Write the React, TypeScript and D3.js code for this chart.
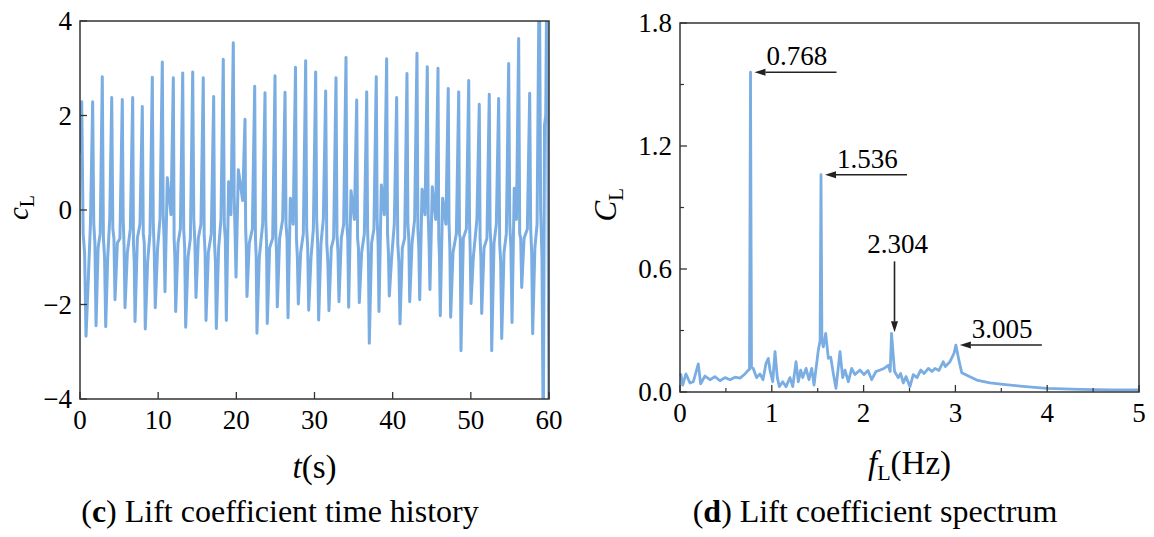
import * as d3 from "d3";

// ---- (c) lift coefficient time history ----
const peakT = [0.22, 1.62, 2.85, 4.06, 5.41, 6.74, 7.97, 9.25, 10.53, 11.94, 13.14, 14.42, 15.77, 17.1, 18.33, 19.61, 21.11, 22.35, 23.67, 24.95, 26.23, 27.57, 28.87, 30.15, 31.43, 32.75, 34.03, 35.4, 36.68, 37.9, 39.23, 40.51, 41.83, 43.11, 44.43, 45.8, 47.11, 48.45, 49.73, 51.08, 52.36, 53.56, 54.84, 56.12, 57.53, 58.76, 59.74];
const peakV = [2.29, 2.29, 2.82, 2.38, 2.34, 2.38, 2.19, 2.81, 3.13, 2.8, 2.9, 2.92, 2.8, 2.4, 3.19, 3.54, 1.92, 2.62, 2.48, 2.84, 2.49, 3.02, 3.16, 2.92, 2.52, 2.8, 3.23, 2.33, 2.5, 2.82, 3.2, 2.38, 2.89, 3.32, 3.03, 3.0, 2.57, 2.5, 2.74, 2.24, 2.45, 2.36, 3.1, 3.63, 2.47, 5.5, 5.5];
const troughT = [0.77, 2.05, 3.29, 4.48, 5.76, 7.04, 8.35, 9.63, 10.87, 12.24, 13.52, 14.84, 16.12, 17.44, 18.72, 19.96, 21.36, 22.64, 23.96, 25.24, 26.61, 27.93, 29.26, 30.53, 31.85, 33.13, 34.37, 35.73, 37.01, 38.25, 39.57, 40.94, 42.18, 43.46, 44.77, 46.09, 47.42, 48.74, 50.02, 51.39, 52.67, 53.95, 55.27, 56.51, 57.91, 59.27];
const troughV = [-2.67, -2.45, -2.47, -1.9, -2.07, -2.36, -2.52, -2.07, -1.73, -2.15, -2.48, -1.85, -2.34, -2.51, -2.34, -1.42, -1.83, -2.61, -2.4, -2.05, -2.28, -1.99, -2.12, -2.33, -2.13, -1.94, -2.06, -1.96, -2.82, -2.15, -1.82, -2.41, -1.94, -1.9, -1.68, -2.24, -2.27, -2.98, -1.98, -2.19, -2.98, -2.72, -2.38, -1.64, -2.62, -5.0];
// plateau levels between the spikes, one per cycle
const afterPeak = [-0.5, -0.3, -0.6, -0.4, -0.2, -0.7, -0.5, -0.3, -0.1, -0.6, -0.4, -0.2, -0.5, -0.7, -0.3, 0.3, -0.4, -0.6, -0.2, -0.5, -0.3, -0.6, -0.4, -0.2, -0.7, -0.5, -0.3, -0.6, -0.4, -0.2, -0.5, -0.7, -0.3, -0.4, -0.1, -0.6, -0.3, -0.5, -0.2, -0.6, -0.4, -0.7, -0.3, -0.5, -0.4, 0];
const beforeTrough = [-0.9, -0.7, -1.0, -0.6, -0.8, -1.1, -0.7, -0.9, -0.6, -1.0, -0.8, -0.7, -0.9, -1.1, -0.6, -0.5, -0.8, -1.0, -0.7, -0.9, -0.6, -1.0, -0.8, -0.7, -1.1, -0.9, -0.6, -0.8, -1.0, -0.7, -0.9, -1.1, -0.6, -0.8, -0.7, -1.0, -0.8, -0.6, -0.9, -1.0, -0.7, -1.1, -0.8, -0.6, -0.9, -1.0];
const afterTrough = [-1.5, -0.8, -1.0, -0.7, -0.9, -0.6, -1.1, -0.8, 0.68, -0.7, -1.0, -0.6, -0.9, -0.8, 0.6, 0.85, -0.7, -1.0, -0.8, -0.6, 0.25, -0.9, -1.0, -0.7, -0.8, -0.6, 0.41, -0.9, -0.7, 0.53, -1.0, -0.8, -0.7, 0.44, 0.49, 0.25, -0.9, -0.6, -1.0, -0.8, -0.7, -0.9, 0.46, -0.6, -0.8, 1.8];
const beforePeak = [-0.3, -0.5, -0.2, -0.6, -0.4, -0.3, -0.5, -0.2, -0.1, -0.4, -0.6, -0.3, -0.5, -0.2, -0.1, 0.2, -0.4, -0.3, -0.6, -0.2, -0.3, -0.5, -0.4, -0.2, -0.6, -0.3, -0.2, -0.5, -0.4, -0.1, -0.3, -0.6, -0.2, -0.1, -0.2, -0.3, -0.5, -0.4, -0.2, -0.6, -0.3, -0.5, -0.2, -0.4, -0.3, 2.0];
const startV = 1.2;
const endV = -4.5;

const timeTicks = [0, 10, 20, 30, 40, 50, 60];
const clTicks = [-4, -2, 0, 2, 4];

// ---- (d) lift coefficient spectrum ----
const freq = [0.008, 0.029, 0.065, 0.109, 0.145, 0.199, 0.225, 0.272, 0.327, 0.38, 0.436, 0.49, 0.545, 0.6, 0.654, 0.708, 0.744, 0.757, 0.768, 0.779, 0.798, 0.835, 0.871, 0.904, 0.937, 0.962, 0.98, 1.01, 1.035, 1.06, 1.082, 1.119, 1.155, 1.198, 1.228, 1.264, 1.289, 1.315, 1.337, 1.373, 1.405, 1.435, 1.46, 1.489, 1.507, 1.526, 1.536, 1.546, 1.561, 1.587, 1.616, 1.642, 1.67, 1.699, 1.743, 1.772, 1.797, 1.834, 1.87, 1.906, 1.961, 2.004, 2.048, 2.088, 2.135, 2.179, 2.222, 2.269, 2.29, 2.304, 2.337, 2.378, 2.404, 2.432, 2.462, 2.505, 2.541, 2.582, 2.622, 2.658, 2.705, 2.745, 2.778, 2.821, 2.868, 2.89, 2.941, 2.985, 3.005, 3.036, 3.069, 3.141, 3.232, 3.377, 3.519, 3.704, 3.995, 4.357, 4.717, 5.0];
const amp = [0.09, 0.034, 0.088, 0.044, 0.05, 0.137, 0.04, 0.078, 0.06, 0.075, 0.055, 0.07, 0.06, 0.072, 0.068, 0.088, 0.107, 0.11, 1.56, 0.12, 0.115, 0.07, 0.088, 0.06, 0.14, 0.164, 0.107, 0.05, 0.197, 0.07, 0.026, 0.05, 0.026, 0.07, 0.026, 0.148, 0.05, 0.107, 0.07, 0.115, 0.06, 0.115, 0.034, 0.14, 0.205, 0.25, 1.06, 0.25, 0.22, 0.286, 0.164, 0.17, 0.09, 0.018, 0.197, 0.07, 0.107, 0.05, 0.115, 0.085, 0.107, 0.085, 0.105, 0.06, 0.1, 0.107, 0.115, 0.13, 0.1, 0.286, 0.1, 0.07, 0.09, 0.044, 0.075, 0.026, 0.085, 0.07, 0.107, 0.09, 0.115, 0.1, 0.115, 0.105, 0.148, 0.124, 0.148, 0.189, 0.229, 0.16, 0.094, 0.078, 0.058, 0.044, 0.037, 0.029, 0.018, 0.013, 0.01, 0.01];

const freqTicks = [0, 1, 2, 3, 4, 5];
const freqMinor = [0.5, 1.5, 2.5, 3.5, 4.5];
const ampTicks = [0, 0.6, 1.2, 1.8];
const ampMinor = [0.3, 0.9, 1.5];

const peakLabels = ["0.768", "1.536", "2.304", "3.005"];
const peakFreq = [0.768, 1.536, 2.304, 3.005];
const peakAmp = [1.56, 1.06, 0.286, 0.229];

const BLUE = "#7aade2";
const AXIS = "#333";
const FONT = "'Liberation Serif', 'Times New Roman', serif";

const L = { x0: 80, x1: 549, y0: 21, y1: 399 };
const R = { x0: 680, x1: 1139, y0: 23, y1: 392 };

// spikes up to each peak and down to each trough, with plateau levels in between
function buildSeries(): [number, number][] {
  const pts: [number, number][] = [[0, startV]];
  peakT.forEach((t, i) => {
    pts.push([t, peakV[i]]);
    if (i < troughT.length) {
      const tt = troughT[i];
      const tn = peakT[i + 1];
      const w1 = Math.min(0.3, (tt - t) / 3);
      const w2 = Math.min(0.3, (tn - tt) / 3);
      pts.push([t + w1, afterPeak[i]]);
      pts.push([tt - w1, beforeTrough[i]]);
      pts.push([tt, troughV[i]]);
      pts.push([tt + w2, afterTrough[i]]);
      pts.push([tn - w2, beforePeak[i]]);
    }
  });
  pts.push([60, endV]);
  return pts;
}

const Arrow = ({ x1, y1, x2, y2 }: { x1: number; y1: number; x2: number; y2: number }) => {
  // tail (x1,y1) -> tip (x2,y2)
  const a = Math.atan2(y2 - y1, x2 - x1);
  const len = 11, half = 3.5;
  const bx = x2 - len * Math.cos(a), by = y2 - len * Math.sin(a);
  const px = -Math.sin(a) * half, py = Math.cos(a) * half;
  return (
    <g>
      <line x1={x1} y1={y1} x2={bx} y2={by} stroke="#222" strokeWidth={1.6} />
      <path d={`M${x2},${y2}L${bx + px},${by + py}L${bx - px},${by - py}Z`} fill="#222" />
    </g>
  );
};

const TimePanel = () => {
  const x = d3.scaleLinear().domain([0, 60]).range([L.x0, L.x1]);
  const y = d3.scaleLinear().domain([-4, 4]).range([L.y1, L.y0]);
  const line = d3.line<[number, number]>().x((d) => x(d[0])).y((d) => y(d[1]));
  const data = buildSeries();
  return (
    <g fontFamily={FONT}>
      <defs>
        <clipPath id="clipL">
          <rect x={L.x0} y={L.y0} width={L.x1 - L.x0} height={L.y1 - L.y0} />
        </clipPath>
      </defs>
      <path d={line(data) || ""} fill="none" stroke={BLUE} strokeWidth={3} strokeLinejoin="round" clipPath="url(#clipL)" />
      <rect x={L.x0} y={L.y0} width={L.x1 - L.x0} height={L.y1 - L.y0} fill="none" stroke={AXIS} strokeWidth={1.5} />
      {timeTicks.map((t) => (
        <g key={t}>
          <line x1={x(t)} x2={x(t)} y1={L.y1} y2={L.y1 - 7} stroke={AXIS} strokeWidth={1.3} />
          <text x={x(t)} y={L.y1 + 30} textAnchor="middle" fontSize={27}>{t}</text>
        </g>
      ))}
      {clTicks.map((v) => (
        <g key={v}>
          <line x1={L.x0} x2={L.x0 + 7} y1={y(v)} y2={y(v)} stroke={AXIS} strokeWidth={1.3} />
          <text x={L.x0 - 8} y={y(v)} dy="0.35em" textAnchor="end" fontSize={27}>
            {v < 0 ? `\u2212${-v}` : v}
          </text>
        </g>
      ))}
      <text transform={`translate(28,${(L.y0 + L.y1) / 2 + 10}) rotate(-90)`} fontSize={29}>
        <tspan fontStyle="italic">c</tspan>
        <tspan fontSize={20} dy={6}>L</tspan>
      </text>
      <text x={(L.x0 + L.x1) / 2} y={478} textAnchor="middle" fontSize={33}>
        <tspan fontStyle="italic">t</tspan>(s)
      </text>
      <text x={280} y={522} textAnchor="middle" fontSize={32}>
        (<tspan fontWeight="bold">c</tspan>) Lift coefficient time history
      </text>
    </g>
  );
};

const SpectrumPanel = () => {
  const x = d3.scaleLinear().domain([0, 5]).range([R.x0, R.x1]);
  const y = d3.scaleLinear().domain([0, 1.8]).range([R.y1, R.y0]);
  const pts = freq.map((f, i) => [f, amp[i]] as [number, number]);
  const line = d3.line<[number, number]>().x((d) => x(d[0])).y((d) => y(d[1]));
  const fmt = d3.format(".1f");
  return (
    <g fontFamily={FONT}>
      <path d={line(pts) || ""} fill="none" stroke={BLUE} strokeWidth={2.8} strokeLinejoin="round" />
      <rect x={R.x0} y={R.y0} width={R.x1 - R.x0} height={R.y1 - R.y0} fill="none" stroke={AXIS} strokeWidth={1.5} />
      {freqTicks.map((f) => (
        <g key={f}>
          <line x1={x(f)} x2={x(f)} y1={R.y1} y2={R.y1 - 7} stroke={AXIS} strokeWidth={1.3} />
          <text x={x(f)} y={R.y1 + 30} textAnchor="middle" fontSize={27}>{f}</text>
        </g>
      ))}
      {freqMinor.map((f) => (
        <line key={f} x1={x(f)} x2={x(f)} y1={R.y1} y2={R.y1 - 4} stroke={AXIS} strokeWidth={1.2} />
      ))}
      {ampTicks.map((v) => (
        <g key={v}>
          <line x1={R.x0} x2={R.x0 + 7} y1={y(v)} y2={y(v)} stroke={AXIS} strokeWidth={1.3} />
          <text x={R.x0 - 8} y={y(v)} dy="0.35em" textAnchor="end" fontSize={27}>{fmt(v)}</text>
        </g>
      ))}
      {ampMinor.map((v) => (
        <line key={v} x1={R.x0} x2={R.x0 + 4} y1={y(v)} y2={y(v)} stroke={AXIS} strokeWidth={1.2} />
      ))}
      {peakLabels.map((lab, i) => {
        const tx = x(peakFreq[i]) + 4;
        const ty = y(peakAmp[i]);
        if (i === 2) {
          return (
            <g key={lab} fontSize={27}>
              <Arrow x1={tx - 1} y1={ty - 72} x2={tx - 1} y2={ty - 1} />
              <text x={tx + 2} y={ty - 80} textAnchor="middle">{lab}</text>
            </g>
          );
        }
        return (
          <g key={lab} fontSize={27}>
            <Arrow x1={tx + 82} y1={ty} x2={tx} y2={ty} />
            <text x={tx + 12} y={ty - 7}>{lab}</text>
          </g>
        );
      })}
      <text transform={`translate(616,${(R.y0 + R.y1) / 2 + 14}) rotate(-90)`} fontSize={31}>
        <tspan fontStyle="italic">C</tspan>
        <tspan fontSize={21} dy={7}>L</tspan>
      </text>
      <text x={(R.x0 + R.x1) / 2} y={474} textAnchor="middle" fontSize={33}>
        <tspan fontStyle="italic">f</tspan>
        <tspan fontSize={22} dy={6}>L</tspan>
        <tspan dy={-6}>(Hz)</tspan>
      </text>
      <text x={875} y={522} textAnchor="middle" fontSize={32}>
        (<tspan fontWeight="bold">d</tspan>) Lift coefficient spectrum
      </text>
    </g>
  );
};

export default function App() {
  return (
    <svg width={1154} height={537} style={{ position: "absolute", left: 0, top: 0, background: "#fff" }}>
      <TimePanel />
      <SpectrumPanel />
    </svg>
  );
}
